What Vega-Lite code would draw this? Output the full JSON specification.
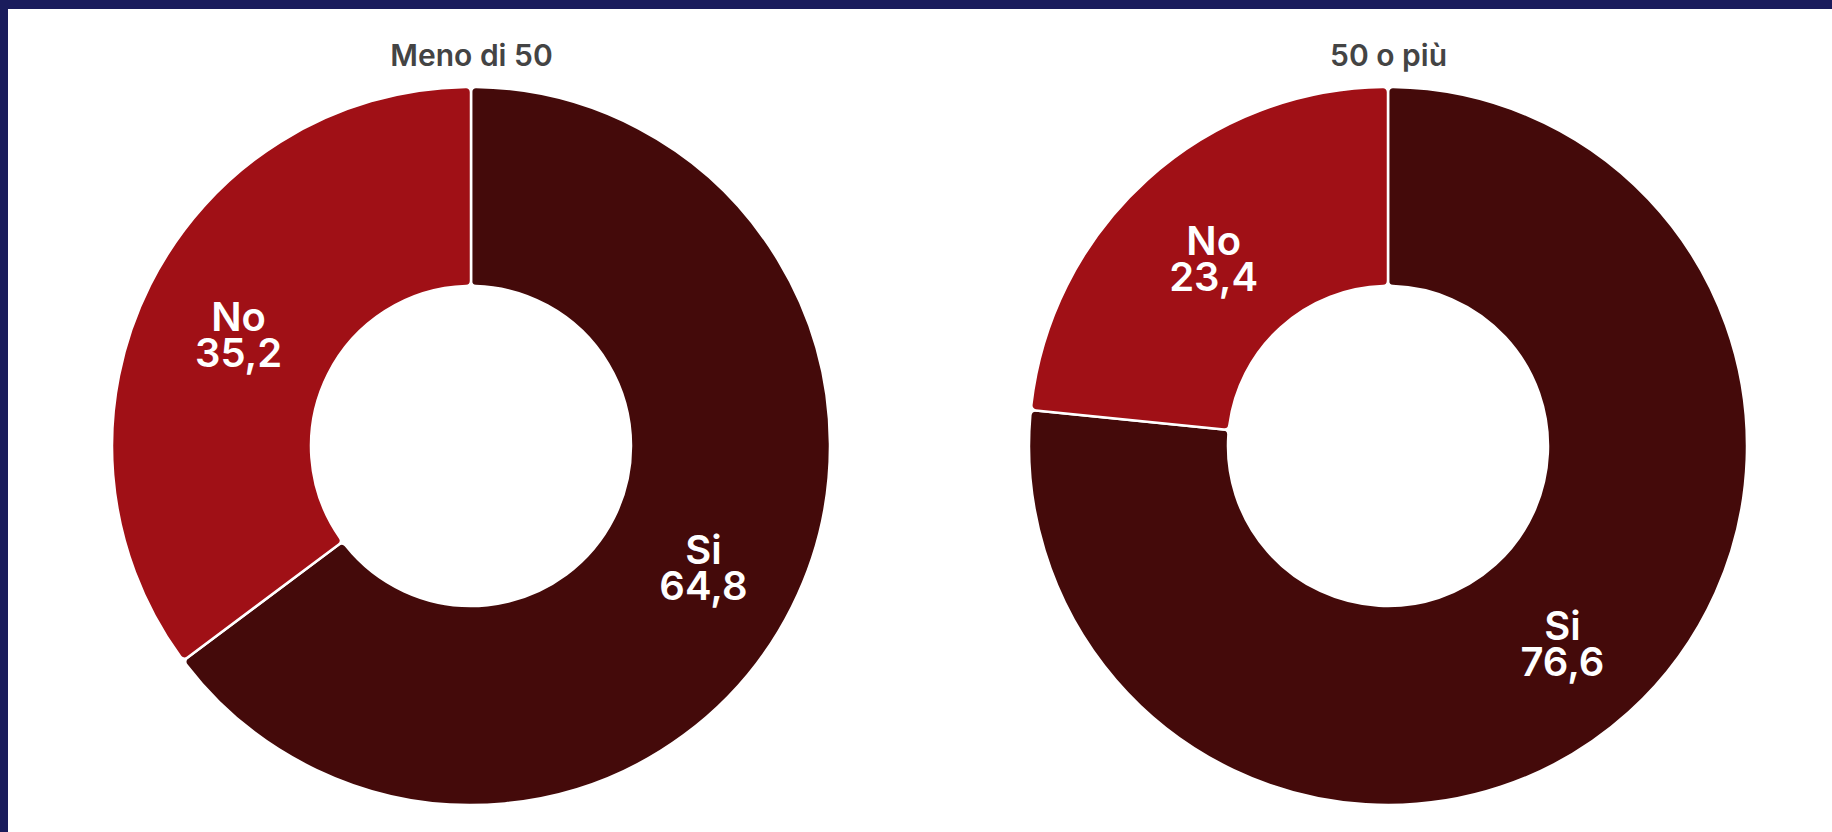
{
  "$schema": "https://vega.github.io/schema/vega-lite/v6.json",
  "width": 1824,
  "height": 823,
  "padding": {"top": 9, "left": 8, "right": 0, "bottom": 0},
  "background": "#1a1c5c",
  "config": {
    "view": {"fill": "white", "stroke": null},
    "font": "Inter"
  },
  "data": {
    "values": [
      {"gruppo": "Meno di 50", "risposta": "Si", "ordine": 1, "valore": 64.8},
      {"gruppo": "Meno di 50", "risposta": "No", "ordine": 2, "valore": 35.2},
      {"gruppo": "50 o più", "risposta": "Si", "ordine": 1, "valore": 76.6},
      {"gruppo": "50 o più", "risposta": "No", "ordine": 2, "valore": 23.4}
    ]
  },
  "transform": [
    {
      "stack": "valore",
      "groupby": ["gruppo"],
      "sort": [{"field": "ordine", "order": "ascending"}],
      "as": ["t0", "t1"]
    },
    {"calculate": "(datum.t0 + datum.t1) / 2", "as": "tmid"},
    {
      "calculate": "datum.risposta + '\\n' + replace(format(datum.valore, '.1f'), '.', ',')",
      "as": "etichetta"
    }
  ],
  "encoding": {
    "x": {
      "field": "gruppo",
      "type": "nominal",
      "sort": ["Meno di 50", "50 o più"],
      "scale": {"type": "point", "range": [463, 1380], "padding": 0},
      "axis": {
        "orient": "top",
        "title": null,
        "domain": false,
        "ticks": false,
        "grid": false,
        "labelAngle": 0,
        "labelPadding": -56,
        "labelBaseline": "alphabetic",
        "labelFont": "Inter",
        "labelFontSize": 30,
        "labelFontWeight": 600,
        "labelColor": "#444444"
      }
    }
  },
  "layer": [
    {
      "mark": {
        "type": "arc",
        "outerRadius": 359,
        "innerRadius": 160,
        "stroke": "white",
        "strokeWidth": 2.5,
        "cornerRadius": 5,
        "yOffset": 25.5
      },
      "encoding": {
        "theta": {"field": "t0", "type": "quantitative", "scale": {"domain": [0, 100]}},
        "theta2": {"field": "t1"},
        "color": {
          "field": "risposta",
          "type": "nominal",
          "scale": {"domain": ["Si", "No"], "range": ["#440a0a", "#a01016"]},
          "legend": null
        }
      }
    },
    {
      "mark": {
        "type": "text",
        "radius": 260,
        "yOffset": 15,
        "align": "center",
        "baseline": "middle",
        "lineBreak": "\n",
        "lineHeight": 36,
        "font": "Inter",
        "fontSize": 40,
        "fontWeight": 600,
        "color": "white"
      },
      "encoding": {
        "theta": {"field": "tmid", "type": "quantitative", "scale": {"domain": [0, 100]}},
        "text": {"field": "etichetta", "type": "nominal"}
      }
    }
  ]
}
